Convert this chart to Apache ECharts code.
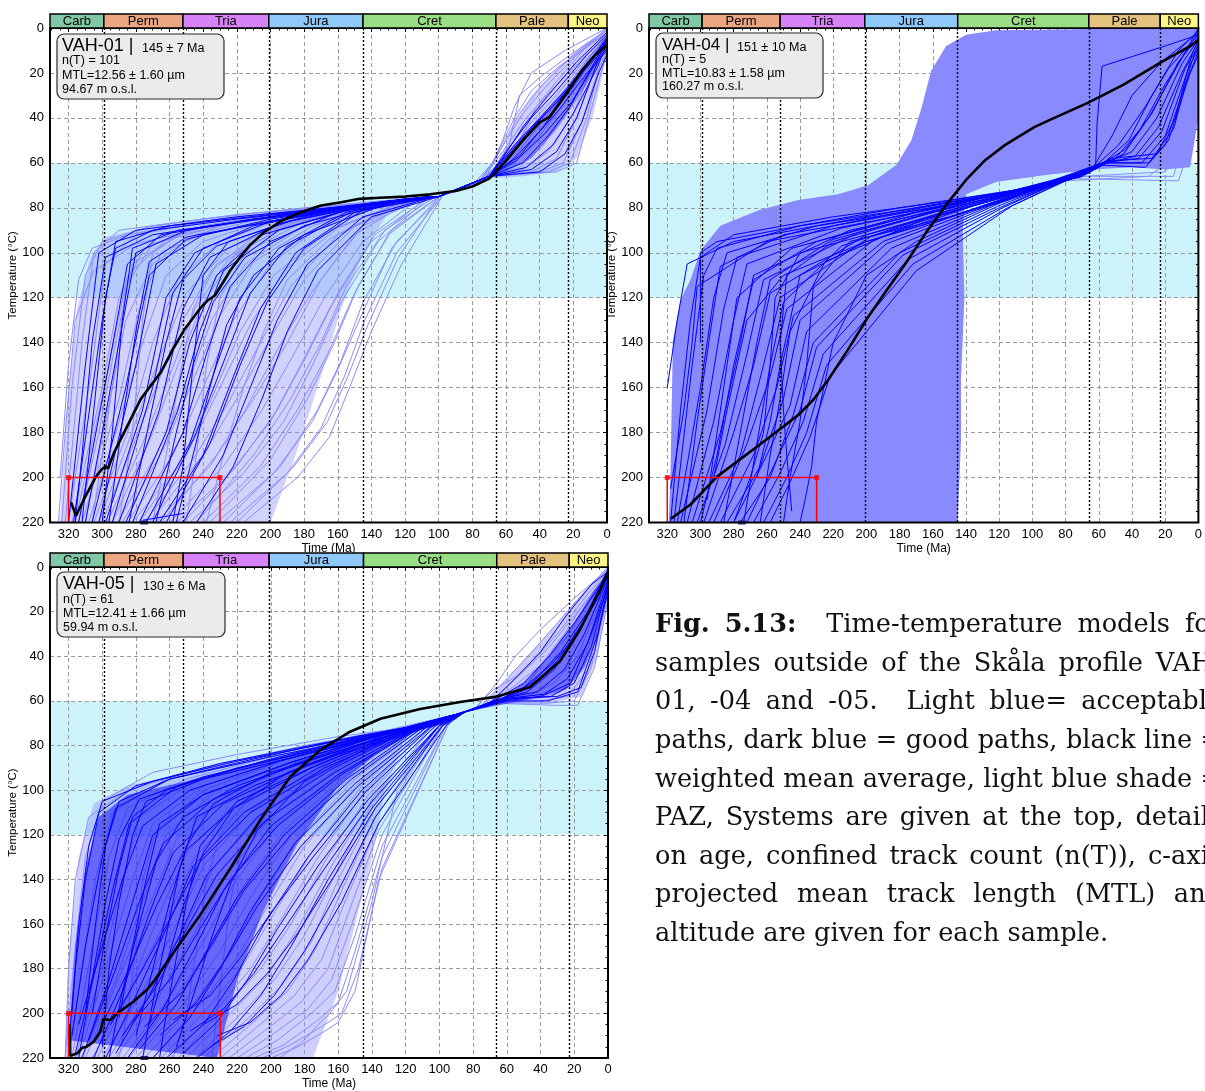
<!DOCTYPE html>
<html><head><meta charset="utf-8">
<script src="https://cdn.jsdelivr.net/npm/echarts@6/dist/echarts.min.js"></script>
<style>html,body{margin:0;padding:0;background:#fff;overflow:hidden}#c{width:1205px;height:1091px}</style>
</head><body><div id="c"></div><script>
// ---------- axis / period data ----------
const xMax = 331;
const yMax = 220;
const tickStep = 20;
const boundaries = [299, 252, 201, 145, 66, 23];
const periodNames = ['Carb', 'Perm', 'Tria', 'Jura', 'Cret', 'Pale', 'Neo'];
const periodStart = [359, 299, 252, 201, 145, 66, 23];
const periodEnd = [299, 252, 201, 145, 66, 23, 0];
const periodColors = ['#80c8a6', '#eba781', '#d782f8', '#8ec9fa', '#99de85', '#e3c27f', '#fbf685'];
const pazRange = [60, 120];
const redBox = [320,220, 320,200, 230,200, 230,220];
const redCorners = [[320,200],[230,200]];
const navyMark = [[275,220]];

const sampleNames = ['VAH-01', 'VAH-04', 'VAH-05'];
const sampleAges = ['145 ± 7 Ma', '151 ± 10 Ma', '130 ± 6 Ma'];
const sampleNT = ['n(T) = 101', 'n(T) = 5', 'n(T) = 61'];
const sampleMTL = ['MTL=12.56 ± 1.60 µm', 'MTL=10.83 ± 1.58 µm', 'MTL=12.41 ± 1.66 µm'];
const sampleAlt = ['94.67 m o.s.l.', '160.27 m o.s.l.', '59.94 m o.s.l.'];

// ---------- VAH-01 ----------
const p1Mean = [318.5,211, 315.5,217, 313,213, 309,207, 304,200, 300.5,196.5, 298,195, 296.5,196, 293,189, 289,183, 283,174, 277,165, 271,159, 265,153, 258,143, 251,134, 246,129, 242,125, 237,121, 233,119, 228,113, 224,108, 218,102, 212,96.5, 204,91, 194,86, 182,82, 170,79, 158,77.5, 147,76, 135,75.5, 120,75, 105,74, 90,72.5, 80,70.5, 70,67, 66,64, 60,59, 50,50, 40,42, 34,39.5, 25,30, 15,19, 7,12, 0,7.5];
// envelope of the acceptable (light) paths, below and above the convergence
const p1LightZone = [325,220, 321,170, 315,125, 307,102, 298,93, 270,88, 230,84, 180,80, 140,77, 110,75.5, 100,75, 112,76, 130,82, 145,100, 158,125, 170,155, 185,190, 200,220];
const p1LightZoneTop = [100,75, 80,71, 70,66, 62,55, 55,42, 45,30, 30,18, 15,8, 0,0, 0,12, 8,38, 18,58, 30,64, 50,66, 70,67, 100,75];
const p1DarkZoneTop = [75,68, 62,58, 50,48, 38,38, 25,27, 12,14, 0,3, 0,9, 8,20, 18,32, 30,45, 45,58, 60,64, 75,68];
const p1Light = [
[324,220, 318,160, 310,110, 300,95, 270,88, 220,83, 160,79, 110,76],
[322,220, 312,140, 305,100, 290,90, 240,85, 180,80, 105,75],
[320,220, 306,150, 298,105, 280,92, 230,85, 170,80, 108,76],
[318,220, 300,160, 290,120, 275,98, 240,88, 190,82, 125,77, 100,75],
[316,220, 296,150, 285,110, 260,93, 210,85, 150,79, 105,75],
[314,220, 302,180, 292,140, 282,105, 250,90, 200,83, 130,77, 102,75],
[312,220, 290,165, 278,125, 265,100, 230,88, 180,81, 110,76],
[310,220, 298,175, 286,130, 270,105, 245,92, 195,83, 140,78, 104,75],
[308,220, 288,170, 276,140, 262,110, 240,95, 200,85, 135,78, 100,75],
[305,220, 285,180, 270,140, 255,112, 230,95, 190,84, 130,77, 106,75],
[302,220, 280,175, 265,145, 250,118, 225,98, 185,85, 125,77, 100,75],
[300,220, 284,190, 268,160, 252,130, 235,108, 205,90, 140,79, 104,75],
[297,220, 276,185, 260,155, 245,125, 225,103, 190,87, 130,78, 100,75],
[294,220, 270,180, 255,150, 240,122, 220,100, 185,86, 125,77, 102,75],
[291,220, 268,190, 250,160, 235,130, 215,105, 180,88, 135,78, 100,75],
[288,220, 262,185, 245,155, 230,128, 210,104, 175,88, 130,78, 104,75],
[285,220, 258,190, 240,160, 222,130, 200,105, 170,88, 125,77, 100,75],
[282,220, 255,195, 235,165, 218,135, 198,110, 165,90, 120,77, 102,75],
[278,220, 250,190, 230,160, 212,132, 192,108, 160,89, 120,77, 100,75],
[275,220, 246,192, 226,168, 206,140, 188,115, 160,92, 115,76, 100,75],
[272,220, 240,190, 220,165, 200,138, 180,112, 150,88, 110,76],
[268,220, 236,195, 215,170, 195,142, 176,118, 150,92, 115,76, 100,75],
[265,220, 232,190, 210,165, 190,140, 170,112, 145,88, 110,76],
[260,220, 228,195, 205,170, 186,145, 168,120, 145,95, 112,76, 100,75],
[256,220, 224,198, 200,175, 182,150, 165,125, 140,95, 108,76],
[252,220, 220,195, 196,170, 178,145, 160,118, 138,92, 105,75],
[248,220, 216,198, 192,175, 175,150, 158,122, 136,95, 105,75],
[244,220, 210,190, 188,165, 170,140, 155,115, 132,90, 102,75],
[240,220, 206,195, 184,170, 166,145, 150,118, 130,92, 100,75],
[236,220, 200,192, 178,165, 162,140, 148,115, 128,90, 100,75],
[232,220, 198,198, 175,175, 160,152, 146,128, 128,98, 100,75],
[228,220, 194,195, 172,170, 158,148, 145,122, 125,95, 98,75],
[224,220, 190,198, 170,178, 156,155, 144,130, 125,100, 98,75],
[220,220, 186,195, 166,175, 154,155, 142,132, 124,102, 100,75],
[216,220, 184,200, 165,182, 153,160, 140,135, 122,105, 98,75],
[326,220, 322,180, 316,130, 305,108, 280,96, 235,88, 175,82, 115,76, 100,75],
[250,220, 244,190, 238,150, 230,120, 215,100, 180,86, 120,77, 100,75],
[290,220, 282,180, 276,130, 270,100, 250,90, 200,83, 130,77, 100,75],
[325,200, 320,150, 314,112, 306,98, 285,92, 240,86, 170,80, 100,75],
[306,220, 300,190, 292,150, 286,115, 270,96, 220,86, 150,79, 100,75],
[270,220, 262,190, 254,155, 246,125, 232,105, 200,90, 140,79, 100,75],
[238,220, 228,190, 216,160, 204,135, 190,112, 165,94, 130,80, 100,75]
];
const p1Dark = [
[320,220, 310,150, 302,100, 280,90, 220,84, 150,79, 105,75],
[317,220, 300,130, 292,95, 260,88, 200,83, 130,77, 100,75],
[314,220, 296,150, 285,105, 265,92, 210,85, 140,78, 102,75],
[310,220, 290,140, 280,100, 250,90, 190,83, 125,77, 100,75],
[306,220, 286,160, 272,110, 250,94, 200,85, 130,77, 100,75],
[302,220, 280,150, 268,105, 240,92, 180,83, 120,76, 100,75],
[298,220, 276,170, 262,120, 245,100, 210,88, 140,78, 102,75],
[294,220, 270,160, 258,118, 240,98, 200,86, 130,77, 100,75],
[290,220, 266,170, 252,125, 236,102, 195,87, 135,78, 100,75],
[286,220, 262,180, 248,140, 232,110, 205,92, 150,80, 106,75],
[282,220, 255,170, 242,135, 228,108, 195,90, 140,78, 100,75],
[278,220, 252,180, 238,145, 224,115, 200,95, 160,82, 108,75],
[274,220, 248,185, 232,150, 218,120, 195,98, 155,82, 106,75],
[270,220, 244,180, 226,145, 212,118, 190,97, 150,81, 104,75],
[266,220, 240,190, 222,155, 206,125, 185,100, 150,82, 102,75],
[262,220, 236,185, 218,150, 202,122, 180,98, 145,81, 100,75],
[258,220, 252,195, 246,150, 240,110, 225,95, 180,84, 120,76, 100,75],
[252,220, 228,190, 212,160, 196,130, 178,105, 145,84, 102,75],
[316,220, 312,190, 306,140, 298,102, 270,92, 210,85, 140,78, 100,75],
[244,220, 222,195, 205,165, 190,135, 172,108, 140,84, 100,75],
[300,220, 294,180, 288,130, 282,98, 255,90, 195,84, 125,77, 100,75],
[276,219, 252,216],
[312,220, 305,170, 298,120, 292,98, 270,90, 220,85, 160,80, 100,75],
[296,220, 288,175, 280,135, 272,104, 250,93, 200,86, 140,78, 100,75],
[284,220, 272,175, 262,140, 252,112, 232,97, 190,86, 130,77, 100,75],
[268,220, 256,180, 246,150, 234,122, 215,102, 180,88, 130,78, 100,75],
[256,220, 246,190, 236,160, 226,132, 210,110, 180,92, 130,78, 100,75]
];
const p1LightTop = [
[100,75, 80,70, 68,60, 55,40, 45,28, 30,18, 15,10, 0,0],
[100,75, 78,70, 66,58, 52,38, 38,25, 20,12, 0,1],
[100,75, 76,69, 64,55, 50,38, 35,25, 18,12, 0,2],
[100,75, 75,68, 62,55, 48,40, 32,27, 15,14, 0,3],
[100,75, 74,68, 60,58, 45,42, 30,30, 15,16, 0,4],
[100,75, 72,67, 58,60, 42,45, 28,32, 12,16, 0,5],
[100,75, 70,66, 55,60, 40,48, 25,33, 10,15, 0,6],
[100,75, 70,66, 52,62, 38,52, 22,35, 8,14, 0,7],
[100,75, 70,66, 50,63, 35,55, 20,38, 8,16, 0,8],
[100,75, 70,66, 45,64, 30,58, 18,40, 6,15, 0,8],
[100,75, 70,66, 40,64, 26,60, 15,42, 5,18, 0,10],
[100,75, 70,66, 35,64, 22,60, 12,40, 4,16, 0,12],
[100,75, 70,66, 30,64, 18,60, 10,38, 0,10],
[100,75, 70,66, 58,52, 52,30, 40,22, 22,12, 0,1],
[100,75, 72,67, 62,50, 55,35, 45,20, 25,10, 0,0],
[100,75, 70,66, 55,55, 42,35, 28,22, 12,8, 0,2]
];
const p1DarkTop = [
[100,75, 70,66, 55,52, 40,40, 25,28, 10,14, 0,6],
[100,75, 70,66, 58,58, 45,45, 30,33, 15,20, 0,8],
[100,75, 70,66, 52,57, 38,44, 24,30, 10,15, 0,4],
[100,75, 70,66, 50,60, 35,48, 22,35, 8,16, 0,5],
[100,75, 70,66, 48,62, 32,52, 20,38, 6,18, 0,7],
[100,75, 70,66, 60,55, 45,40, 30,28, 12,12, 0,3],
[100,75, 70,66, 45,63, 30,55, 18,40, 5,14, 0,9],
[100,75, 70,66, 55,58, 40,46, 28,36, 14,22, 0,10],
[100,75, 70,66, 62,58, 50,44, 35,30, 18,15, 0,2],
[100,75, 70,66, 40,64, 25,56, 15,42, 5,20, 0,12],
[100,75, 70,66, 57,55, 43,43, 27,31, 11,15, 0,5],
[100,75, 70,66, 54,59, 37,47, 21,33, 7,16, 0,6]
];

// ---------- VAH-04 ----------
const p2Mean = [317.8,218.3, 306,212, 290,199.6, 260.4,183.2, 240.8,172, 232,165.4, 223,156.5, 211.2,143.2, 199.4,129, 187.6,116.5, 175.7,104, 163.8,90.7, 152,78.7, 140,67.6, 128.3,58.7, 116.4,52, 98.6,44, 86.8,40, 66.6,33.3, 45.3,25.3, 23.4,15.6, 3.9,7.6, 0,5.3];
const p2Envelope = [319,220, 318,196, 316.6,139, 312,121, 306,112, 300,99, 288,88, 264.5,81, 241,76.5, 217,74, 199,70, 182,61, 173,50, 167,36, 161,19, 152,8, 140,3, 122,1, 63,0.5, 0,0, 0,40, 5,62, 20,63, 40,62, 63,63, 93,65.5, 122,68.5, 140,74, 142,90, 141,121, 143,156, 143,183, 145,220];
const p2LightTop = [
[70,66, 20,64, 8,45, 0,20],
[70,66, 15,66, 5,40, 0,15],
[80,68, 30,66, 10,55, 0,25],
[75,67, 12,68, 4,50, 0,35]
];
const p2Dark = [
[318,220, 312,170, 306,130, 300,102, 280,92, 220,84, 160,78, 100,71, 70,66],
[316,220, 305,150, 298,110, 290,98, 240,88, 180,80, 110,72, 68,65],
[314,220, 300,160, 292,120, 284,100, 230,88, 170,80, 105,72, 66,64],
[312,220, 296,170, 286,125, 278,102, 220,88, 160,79, 100,71, 65,64],
[308,220, 292,175, 280,130, 272,105, 215,89, 150,79, 95,70, 64,63],
[305,220, 288,180, 276,140, 268,110, 210,90, 150,80, 95,70, 62,62],
[302,220, 285,185, 272,145, 262,112, 205,91, 145,79, 92,70, 62,62],
[298,220, 280,180, 268,150, 258,118, 200,92, 140,79, 90,69, 60,62],
[295,220, 276,190, 262,150, 252,120, 198,93, 140,80, 88,69, 60,61],
[292,220, 272,185, 258,155, 248,125, 195,94, 135,79, 85,68, 58,61],
[288,220, 268,190, 254,160, 244,128, 190,95, 130,79, 85,68, 58,60],
[284,220, 264,195, 250,165, 240,130, 188,96, 130,80, 82,68, 56,60],
[280,220, 260,190, 246,168, 236,135, 185,98, 125,79, 80,67, 55,60],
[276,220, 258,200, 244,172, 232,140, 180,100, 120,79, 78,67, 55,60],
[272,220, 256,195, 240,170, 230,142, 178,101, 120,80, 78,67, 54,59],
[268,220, 252,198, 238,175, 226,145, 175,103, 118,80, 76,66, 52,58],
[262,220, 248,200, 236,180, 224,150, 172,105, 115,80, 75,66, 52,58],
[258,220, 246,202, 234,182, 222,155, 170,108, 112,79, 74,66, 50,58],
[300,220, 290,190, 280,150, 268,112, 230,95, 170,82, 110,72, 70,66],
[318,205, 310,170, 305,140, 302,115, 260,95, 190,85, 120,74, 70,66],
[320,160, 314,130, 308,105, 280,95, 230,88, 160,80, 110,72, 68,65],
[280,220, 270,200, 262,180, 258,150, 255,120, 240,100, 190,90, 120,76, 70,66],
[250,220, 246,200, 240,175, 236,150, 232,115, 210,95, 150,84, 100,72, 66,64],
[266,200, 258,175, 252,150, 240,110, 200,95, 140,82, 90,70, 62,62],
[240,220, 237,210, 233,195, 230,175, 220,140, 200,110, 170,95, 120,78, 72,66],
[292,200, 284,170, 278,150, 272,130, 250,110, 200,95, 140,82, 85,68, 60,61],
[245,215, 248,190, 250,170, 252,140, 248,110, 220,95, 160,82, 100,71, 66,64],
[300,140, 300,100, 290,95, 240,88, 170,80, 100,71, 68,65],
[310,220, 302,175, 294,135, 288,106, 250,92, 190,84, 120,74, 66,64],
[286,220, 276,180, 266,140, 258,112, 220,94, 160,82, 100,71, 62,62],
[274,220, 266,185, 258,150, 250,122, 215,97, 150,81, 95,70, 60,61],
[296,210, 290,180, 284,150, 278,120, 245,98, 180,85, 110,72, 64,63],
[264,220, 258,190, 252,165, 246,135, 225,104, 165,85, 100,71, 58,60]
];
const p2DarkTop = [
[70,66, 50,58, 35,45, 20,25, 0,2],
[68,65, 45,56, 30,40, 15,20, 0,0],
[66,64, 48,52, 32,35, 18,18, 0,3],
[64,63, 44,54, 28,38, 12,15, 0,4],
[62,62, 40,55, 25,40, 10,16, 0,5],
[60,61, 38,57, 24,44, 10,20, 0,6],
[58,60, 36,58, 22,46, 8,18, 0,8],
[56,60, 34,60, 20,48, 6,18, 0,9],
[55,60, 30,60, 18,50, 5,20, 0,10],
[54,59, 28,58, 15,45, 4,15, 0,7],
[60,62, 42,50, 28,30, 12,10, 0,1],
[65,64, 52,48, 40,30, 22,15, 0,2],
[62,63, 61,42, 58,17, 20,8, 0,3],
[58,61, 32,62, 20,52, 8,25, 0,12],
[52,58, 25,56, 14,40, 4,12, 0,5]
];

// ---------- VAH-05 ----------
const p3Mean = [319.3,205, 319,219, 318,219.5, 315,218, 312,215.5, 309,214.8, 305,212.6, 301,208, 299.4,202.5, 295.2,203, 291.2,200, 281.6,194.8, 273.5,189.4, 269.7,185.9, 257,172, 242,156, 224,135, 206,113, 188.5,94, 170.7,82, 153,73.8, 135,68, 111.4,63.6, 87.7,60.5, 67,58.2, 46.2,53.8, 28.5,42.2, 16.6,28, 4.7,10.2, 0,2.2];
const p3LightZone = [322,220, 320,175, 314,130, 305,106, 285,98, 250,92, 210,86, 170,80, 130,74, 100,69, 88,66, 100,70, 120,76, 132,100, 140,130, 150,160, 160,190, 175,220];
const p3LightZoneTop = [90,66, 75,62, 62,52, 48,40, 32,27, 15,12, 0,0, 0,14, 6,40, 16,58, 35,61, 60,61, 90,66];
const p3DarkZone = [320,212, 316,170, 310,135, 302,112, 285,102, 250,96, 210,88, 170,80, 130,73, 95,68, 110,72, 135,82, 160,98, 185,125, 205,155, 220,185, 232,220];
const p3DarkZoneTop = [85,65, 65,60, 50,52, 35,40, 20,25, 8,10, 0,2, 0,10, 6,30, 14,45, 25,55, 45,59, 85,65];
const p3Light = [
[322,220, 316,170, 310,130, 300,105, 270,92, 220,84, 160,76, 120,72, 90,66],
[320,220, 312,180, 304,140, 294,110, 260,94, 210,85, 150,76, 110,70, 88,66],
[318,220, 306,170, 296,130, 285,108, 250,95, 200,85, 150,77, 100,69, 90,66],
[316,220, 300,180, 288,140, 278,112, 245,96, 195,86, 140,75, 100,68, 88,66],
[314,220, 296,175, 282,140, 270,115, 240,98, 190,86, 140,76, 95,67],
[312,220, 292,185, 276,150, 262,120, 232,100, 185,87, 135,75, 95,67],
[310,220, 288,180, 270,148, 256,122, 226,102, 180,87, 130,74, 90,66],
[306,220, 284,190, 266,155, 250,128, 220,105, 175,88, 130,75, 90,66],
[303,220, 280,185, 262,158, 245,130, 215,106, 172,88, 125,74, 88,66],
[300,220, 276,190, 256,160, 240,134, 210,108, 170,90, 125,75, 88,66],
[296,220, 270,188, 250,160, 234,135, 205,110, 165,90, 120,74, 90,66],
[292,220, 266,192, 246,165, 228,140, 200,112, 160,90, 120,74, 90,66],
[288,220, 262,195, 240,168, 222,142, 196,115, 158,92, 115,73, 90,66],
[284,220, 256,192, 235,170, 218,145, 192,118, 155,93, 115,73, 88,66],
[280,220, 252,196, 230,172, 212,148, 188,120, 152,94, 112,73, 90,66],
[275,220, 248,198, 226,175, 208,150, 184,122, 150,95, 110,72, 90,66],
[270,220, 242,196, 220,175, 202,152, 180,125, 148,97, 110,73, 88,66],
[265,220, 238,198, 216,178, 198,155, 176,128, 146,98, 108,72, 90,66],
[260,220, 234,200, 212,180, 194,158, 172,130, 144,100, 106,72, 90,66],
[255,220, 228,198, 206,180, 188,160, 168,132, 142,102, 105,72, 90,66],
[250,220, 224,200, 202,183, 184,162, 164,134, 140,104, 104,72, 90,66],
[245,220, 220,202, 198,185, 180,165, 162,138, 140,106, 102,72, 90,66],
[240,220, 216,204, 194,188, 176,168, 160,140, 138,108, 100,71, 90,66],
[235,220, 212,205, 190,190, 174,172, 158,145, 138,112, 100,71, 90,66],
[230,220, 208,206, 186,192, 170,176, 156,150, 136,115, 100,72, 90,66],
[225,220, 204,208, 182,195, 166,180, 154,155, 136,118, 98,71, 90,66],
[220,220, 200,210, 178,198, 164,185, 152,160, 134,120, 98,71, 90,66],
[215,220, 196,212, 176,200, 162,190, 150,165, 134,125, 96,71, 90,66],
[210,220, 192,214, 172,203, 160,195, 150,172, 134,130, 96,71, 90,66],
[205,220, 188,214, 170,206, 158,200, 148,180, 134,135, 95,71, 90,66],
[200,220, 184,215, 168,208, 160,204, 150,190, 136,140, 95,71, 90,66],
[322,220, 320,180, 316,140, 308,112, 285,100, 240,90, 180,80, 130,73, 90,66],
[258,220, 250,200, 244,170, 238,140, 230,120, 210,100, 170,85, 120,73, 90,66],
[235,220, 232,200, 228,175, 224,150, 218,128, 200,108, 160,85, 110,72, 90,66],
[290,220, 285,200, 280,170, 276,140, 268,118, 240,100, 190,86, 130,74, 90,66],
[195,220, 180,212, 172,205, 165,200, 155,190, 140,150, 125,100, 100,72, 90,66]
];
const p3Dark = [
[320,215, 316,180, 310,140, 302,110, 280,98, 230,88, 170,79, 120,72, 85,65],
[318,210, 310,170, 300,130, 292,108, 260,95, 210,86, 150,76, 105,70, 85,65],
[316,218, 304,180, 294,145, 284,115, 255,98, 200,86, 145,76, 100,69, 85,65],
[314,205, 300,170, 288,140, 276,116, 248,100, 195,87, 140,76, 98,68, 85,65],
[312,220, 296,185, 282,150, 270,120, 240,102, 190,88, 135,75, 95,67, 85,65],
[308,212, 292,180, 278,150, 264,124, 234,104, 185,88, 130,74, 92,67, 85,65],
[305,220, 288,190, 272,155, 258,128, 228,106, 180,89, 128,74, 90,66, 85,65],
[302,208, 284,180, 268,152, 252,128, 222,108, 176,90, 125,74, 88,66, 85,65],
[298,220, 280,192, 262,162, 246,134, 216,110, 172,90, 122,74, 86,65],
[295,205, 276,180, 258,155, 242,132, 212,110, 168,90, 120,74, 85,65],
[292,218, 272,192, 254,165, 238,138, 208,112, 165,91, 118,73, 85,65],
[288,210, 268,188, 250,162, 232,138, 204,114, 162,92, 116,73, 85,65],
[285,220, 264,198, 246,172, 228,145, 200,116, 160,93, 115,73, 85,65],
[282,204, 260,185, 242,162, 224,140, 196,116, 158,93, 112,72, 85,65],
[278,216, 256,196, 238,172, 220,148, 192,120, 155,95, 112,72, 85,65],
[275,206, 252,190, 234,168, 216,145, 188,120, 152,95, 110,72, 85,65],
[270,220, 248,202, 230,180, 212,154, 186,124, 150,97, 108,72, 85,65],
[266,210, 244,195, 226,175, 208,152, 182,125, 148,98, 106,72, 85,65],
[262,220, 240,205, 222,185, 204,160, 178,130, 146,100, 104,71, 85,65],
[258,203, 236,192, 218,175, 200,155, 175,130, 144,101, 102,71, 85,65],
[252,218, 232,204, 214,185, 196,162, 172,134, 142,104, 100,71, 85,65],
[248,208, 228,198, 210,182, 192,162, 168,135, 140,105, 100,71, 85,65],
[244,220, 224,208, 206,192, 188,170, 166,140, 140,108, 100,71, 85,65],
[240,205, 220,196, 202,182, 184,164, 162,138, 138,108, 98,71, 85,65],
[236,215, 216,206, 198,192, 180,172, 160,145, 138,112, 98,71, 85,65],
[232,210, 212,204, 194,192, 178,176, 158,150, 136,115, 96,71, 85,65],
[310,200, 304,160, 298,125, 290,105, 260,95, 200,85, 140,76, 100,69, 85,65],
[300,215, 296,180, 290,150, 282,120, 274,105, 240,95, 180,84, 120,73, 85,65],
[290,202, 282,170, 274,140, 266,115, 240,102, 190,88, 130,74, 90,66, 85,65],
[276,220, 270,195, 262,165, 254,135, 244,112, 210,98, 160,84, 110,72, 85,65],
[318,200, 314,160, 308,125, 300,105, 270,96, 220,87, 160,78, 110,71, 85,65],
[266,220, 262,200, 256,175, 250,150, 242,125, 220,105, 170,88, 120,73, 85,65],
[314,220, 306,185, 298,150, 290,122, 278,104, 240,94, 180,83, 120,72, 85,65],
[306,200, 298,165, 290,135, 282,112, 262,100, 220,90, 160,80, 110,70, 85,65],
[296,220, 288,190, 278,160, 268,132, 252,112, 220,98, 170,85, 115,72, 85,65],
[280,210, 270,180, 260,150, 250,125, 234,106, 200,92, 150,80, 105,70, 85,65],
[272,205, 262,178, 252,152, 240,128, 222,108, 190,92, 140,78, 100,69, 85,65],
[256,215, 246,192, 236,168, 224,142, 208,118, 180,96, 140,80, 100,70, 85,65]
];
const p3LightTop = [
[90,66, 75,62, 60,50, 45,38, 30,25, 15,12, 0,0],
[90,66, 72,62, 58,52, 42,40, 28,28, 12,12, 0,2],
[90,66, 70,61, 55,53, 40,44, 25,32, 10,14, 0,3],
[90,66, 70,61, 52,56, 36,48, 22,36, 8,16, 0,4],
[90,66, 70,61, 48,58, 32,52, 18,40, 6,18, 0,6],
[90,66, 70,61, 44,59, 28,56, 15,44, 5,20, 0,8],
[90,66, 70,61, 40,60, 24,58, 12,46, 4,22, 0,10],
[90,66, 70,61, 35,61, 20,60, 10,45, 3,22, 0,12],
[90,66, 78,63, 66,52, 55,40, 40,28, 20,14, 0,1],
[90,66, 70,61, 50,55, 38,42, 26,30, 14,16, 0,3],
[90,66, 70,61, 30,62, 18,62, 8,45, 0,15],
[90,66, 80,64, 68,55, 52,48, 35,36, 18,20, 0,5]
];
const p3DarkTop = [
[85,65, 68,60, 50,52, 35,40, 20,25, 0,3],
[85,65, 66,60, 46,54, 30,42, 16,26, 0,4],
[85,65, 64,59, 42,56, 26,46, 14,30, 0,5],
[85,65, 62,59, 38,57, 24,50, 12,34, 0,6],
[85,65, 60,59, 34,58, 20,52, 10,36, 0,7],
[85,65, 58,59, 30,58, 16,54, 8,38, 0,8],
[85,65, 70,61, 55,50, 40,38, 25,22, 10,8, 0,2],
[85,65, 68,60, 48,56, 32,46, 18,30, 5,10, 0,5],
[85,65, 62,60, 40,58, 22,52, 10,30, 0,9],
[85,65, 65,60, 45,52, 28,38, 12,20, 0,1],
[85,65, 60,60, 36,60, 18,56, 6,30, 0,11],
[85,65, 66,60, 50,54, 34,44, 20,32, 6,14, 0,4]
];

// ---------- caption ----------
const captionLines = [
  'Fig. 5.13:  Time-temperature models for',
  'samples outside of the Skåla profile VAH-',
  '01, -04 and -05.  Light blue= acceptable',
  'paths, dark blue = good paths, black line =',
  'weighted mean average, light blue shade =',
  'PAZ, Systems are given at the top, details',
  'on age, confined track count (n(T)), c-axis',
  'projected mean track length (MTL) and',
  'altitude are given for each sample.'
];

// ================= build =================
const LIGHT = '#8a8aff', DARK = '#0000ff', PAZ = '#ccf3fa';
const FONT = 'Liberation Sans';
function pairs(f){ const o=[]; for(let i=0;i<f.length;i+=2) o.push([f[i],f[i+1]]); return o; }

const grids = [
  {left:50, top:28, width:557, height:494.5},
  {left:649, top:28, width:557, height:494.5},
  {left:50, top:567, width:558, height:494.5}
];
const panels = [
  {mean:p1Mean, light:[p1Light, p1LightTop], dark:[p1Dark, p1DarkTop],
   zones:[[p1LightZone, LIGHT, 0.38], [p1LightZoneTop, LIGHT, 0.42], [p1DarkZoneTop, DARK, 0.35]]},
  {mean:p2Mean, light:[p2LightTop], dark:[p2Dark, p2DarkTop],
   zones:[[p2Envelope, LIGHT, 1]]},
  {mean:p3Mean, light:[p3Light, p3LightTop], dark:[p3Dark, p3DarkTop],
   zones:[[p3LightZone, LIGHT, 0.42], [p3LightZoneTop, LIGHT, 0.45], [p3DarkZone, DARK, 0.5], [p3DarkZoneTop, DARK, 0.45]]}
];

const option = {animation:false, backgroundColor:'#fff', grid:[], xAxis:[], yAxis:[], series:[], graphic:[]};

grids.forEach((g,gi)=>{
  option.grid.push(Object.assign({show:true, borderColor:'#000', borderWidth:2, backgroundColor:'rgba(0,0,0,0)', z:10}, g));
  option.xAxis.push({type:'value', gridIndex:gi, inverse:true, min:0, max:xMax, interval:tickStep, z:1,
    name:'Time (Ma)', nameLocation:'middle', nameGap:20, nameTextStyle:{fontSize:12, fontFamily:FONT, color:'#000'},
    axisLine:{show:false}, axisTick:{show:true, length:4, lineStyle:{color:'#000'}},
    minorTick:{show:true, splitNumber:4, length:2.5, lineStyle:{color:'#000'}},
    axisLabel:{fontSize:13, fontFamily:FONT, color:'#000', margin:5, formatter:v=> (v%tickStep===0? String(v):'')},
    splitLine:{show:true, lineStyle:{color:'#9a9a9a', width:1, type:[4,3]}}});
  option.yAxis.push({type:'value', gridIndex:gi, inverse:true, min:0, max:yMax, interval:tickStep, z:1,
    name:'Temperature (°C)', nameLocation:'middle', nameGap:24, nameTextStyle:{fontSize:11.5, fontFamily:FONT, color:'#000'},
    axisLine:{show:false}, axisTick:{show:true, length:4, lineStyle:{color:'#000'}},
    minorTick:{show:true, splitNumber:4, length:2.5, lineStyle:{color:'#000'}},
    axisLabel:{fontSize:13, fontFamily:FONT, color:'#000', margin:6},
    splitLine:{show:true, lineStyle:{color:'#9a9a9a', width:1, type:[4,3]}}});

  const base = {xAxisIndex:gi, yAxisIndex:gi, silent:true};
  // PAZ band
  option.series.push(Object.assign({type:'custom', z:0, data:[[pazRange[0], pazRange[1]]],
    renderItem:(params, api)=>{
      const cs = params.coordSys;
      const y0 = api.coord([0, api.value(0)])[1], y1 = api.coord([0, api.value(1)])[1];
      return {type:'rect', shape:{x:cs.x, y:Math.min(y0,y1), width:cs.width, height:Math.abs(y1-y0)}, style:{fill:PAZ}};
    }}, base));
  const P = panels[gi];
  P.zones.forEach(([zone, color, op])=>{
    option.series.push(Object.assign({type:'custom', z: color===DARK ? 2.5 : 1.5, clip:true, data:[[0,0]],
      renderItem:(params, api)=>({type:'polygon', shape:{points: pairs(zone).map(p=>api.coord(p))}, style:{fill:color, opacity:op}})}, base));
  });
  P.light.forEach(set=>{
    option.series.push(Object.assign({type:'lines', coordinateSystem:'cartesian2d', polyline:true, z:2,
      lineStyle:{color:LIGHT, width:1, opacity:1}, data:set.map(p=>({coords:pairs(p)}))}, base));
  });
  P.dark.forEach(set=>{
    option.series.push(Object.assign({type:'lines', coordinateSystem:'cartesian2d', polyline:true, z:3,
      lineStyle:{color:DARK, width:1, opacity:1}, data:set.map(p=>({coords:pairs(p)}))}, base));
  });
  option.series.push(Object.assign({type:'line', z:4, symbol:'none', data:pairs(P.mean),
    lineStyle:{color:'#000', width:2.6}}, base));
  // period boundaries
  option.series.push(Object.assign({type:'lines', coordinateSystem:'cartesian2d', z:5,
    lineStyle:{color:'#000', width:1.4, type:[2,2], opacity:1},
    data:boundaries.map(b=>({coords:[[b,0],[b,yMax]]}))}, base));
  // red box
  option.series.push(Object.assign({type:'lines', coordinateSystem:'cartesian2d', polyline:true, z:6,
    lineStyle:{color:'#ff0000', width:1.5, opacity:1}, data:[{coords:pairs(redBox)}]}, base));
  option.series.push(Object.assign({type:'scatter', z:7, symbol:'rect', symbolSize:5, itemStyle:{color:'#ff0000'}, data:redCorners}, base));
  option.series.push(Object.assign({type:'scatter', z:7, symbol:'rect', symbolSize:[8,4], itemStyle:{color:'#000080'}, data:navyMark}, base));
  // period bar
  option.series.push(Object.assign({type:'custom', z:11, clip:false,
    data:periodNames.map((n,i)=>[periodStart[i], periodEnd[i], i]),
    renderItem:(params, api)=>{
      const i = api.value(2), cs = params.coordSys;
      const xa = api.coord([api.value(0), 0])[0], xb = api.coord([api.value(1), 0])[0];
      const x0 = Math.max(Math.min(xa,xb), cs.x), x1 = Math.min(Math.max(xa,xb), cs.x+cs.width);
      return {type:'group', children:[
        {type:'rect', shape:{x:x0, y:cs.y-14, width:x1-x0, height:14}, style:{fill:periodColors[i], stroke:'#000', lineWidth:1.5}},
        {type:'text', x:(x0+x1)/2, y:cs.y-6.5, style:{text:periodNames[i], fill:'#000', fontSize:13, fontFamily:FONT, align:'center', verticalAlign:'middle'}}
      ]};
    }}, base));
});

// info boxes
const boxes = [
  {x:57, y:34, w:167, h:65, tx:62, ty:55.5, ageDx:80, tfs:18, ly:[61,75.5,90]},
  {x:656, y:33, w:167, h:65, tx:662, ty:54, ageDx:75, tfs:17, ly:[60,73.5,87]},
  {x:57, y:572, w:168, h:65, tx:63, ty:593.5, ageDx:80, tfs:18, ly:[599.5,613.5,627.5]}
];
boxes.forEach((b,i)=>{
  option.graphic.push({type:'rect', z:20, silent:true, shape:{x:b.x, y:b.y, width:b.w, height:b.h, r:7}, style:{fill:'#ebebeb', stroke:'#2a2a2a', lineWidth:1.2}});
  option.graphic.push({type:'text', z:21, silent:true, x:b.tx, y:b.ty, style:{text:sampleNames[i]+' |', fontSize:b.tfs, fontFamily:FONT, fill:'#000', verticalAlign:'bottom'}});
  option.graphic.push({type:'text', z:21, silent:true, x:b.tx+b.ageDx, y:b.ty, style:{text:sampleAges[i], fontSize:12.5, fontFamily:FONT, fill:'#000', verticalAlign:'bottom'}});
  [sampleNT[i], sampleMTL[i], sampleAlt[i]].forEach((t,k)=>{
    option.graphic.push({type:'text', z:21, silent:true, x:b.tx, y:b.ly[k], style:{text:t, fontSize:12.5, fontFamily:FONT, fill:'#000', verticalAlign:'middle'}});
  });
});

// caption (justified)
(function(){
  const ctx = document.createElement('canvas').getContext('2d');
  const fam = '"DejaVu Serif"';
  function tw(t, bold, fs){ ctx.font = (bold?'bold ':'') + fs + 'px ' + fam; return ctx.measureText(t).width; }
  const last = captionLines[captionLines.length-1];
  const fs = Math.round(453 / (tw(last,false,100)/100) * 10) / 10;
  const left = 655, right = 1222, y0 = 625.5, lh = 38.6;
  const spaceW = tw(' ', false, fs);
  captionLines.forEach((line, li)=>{
    const raw = line.split(' ');
    const words = []; let w = 1;
    raw.forEach(tok=>{ if(tok===''){ w += 1; return; } words.push({t:tok, gapBefore: words.length? w:0}); w = 1; });
    words.forEach((o,k)=>{ o.bold = (li===0 && k<2); o.w = tw(o.t, o.bold, fs); });
    const total = words.reduce((s,o)=>s+o.w,0);
    const gapUnits = words.reduce((s,o)=>s+o.gapBefore,0);
    let gap = spaceW;
    if (li < captionLines.length-1) gap = Math.max((right-left-total)/gapUnits, spaceW*0.6);
    let x = left;
    words.forEach(o=>{
      x += o.gapBefore*gap;
      option.graphic.push({type:'text', z:30, silent:true, x:x, y:y0+li*lh,
        style:{text:o.t, fontSize:fs, fontFamily:'DejaVu Serif', fontWeight:o.bold?'bold':'normal', fill:'#111', verticalAlign:'middle'}});
      x += o.w;
    });
  });
})();

const chart = echarts.init(document.getElementById('c'), null, {renderer:'canvas'});
chart.setOption(option);
</script></body></html>
